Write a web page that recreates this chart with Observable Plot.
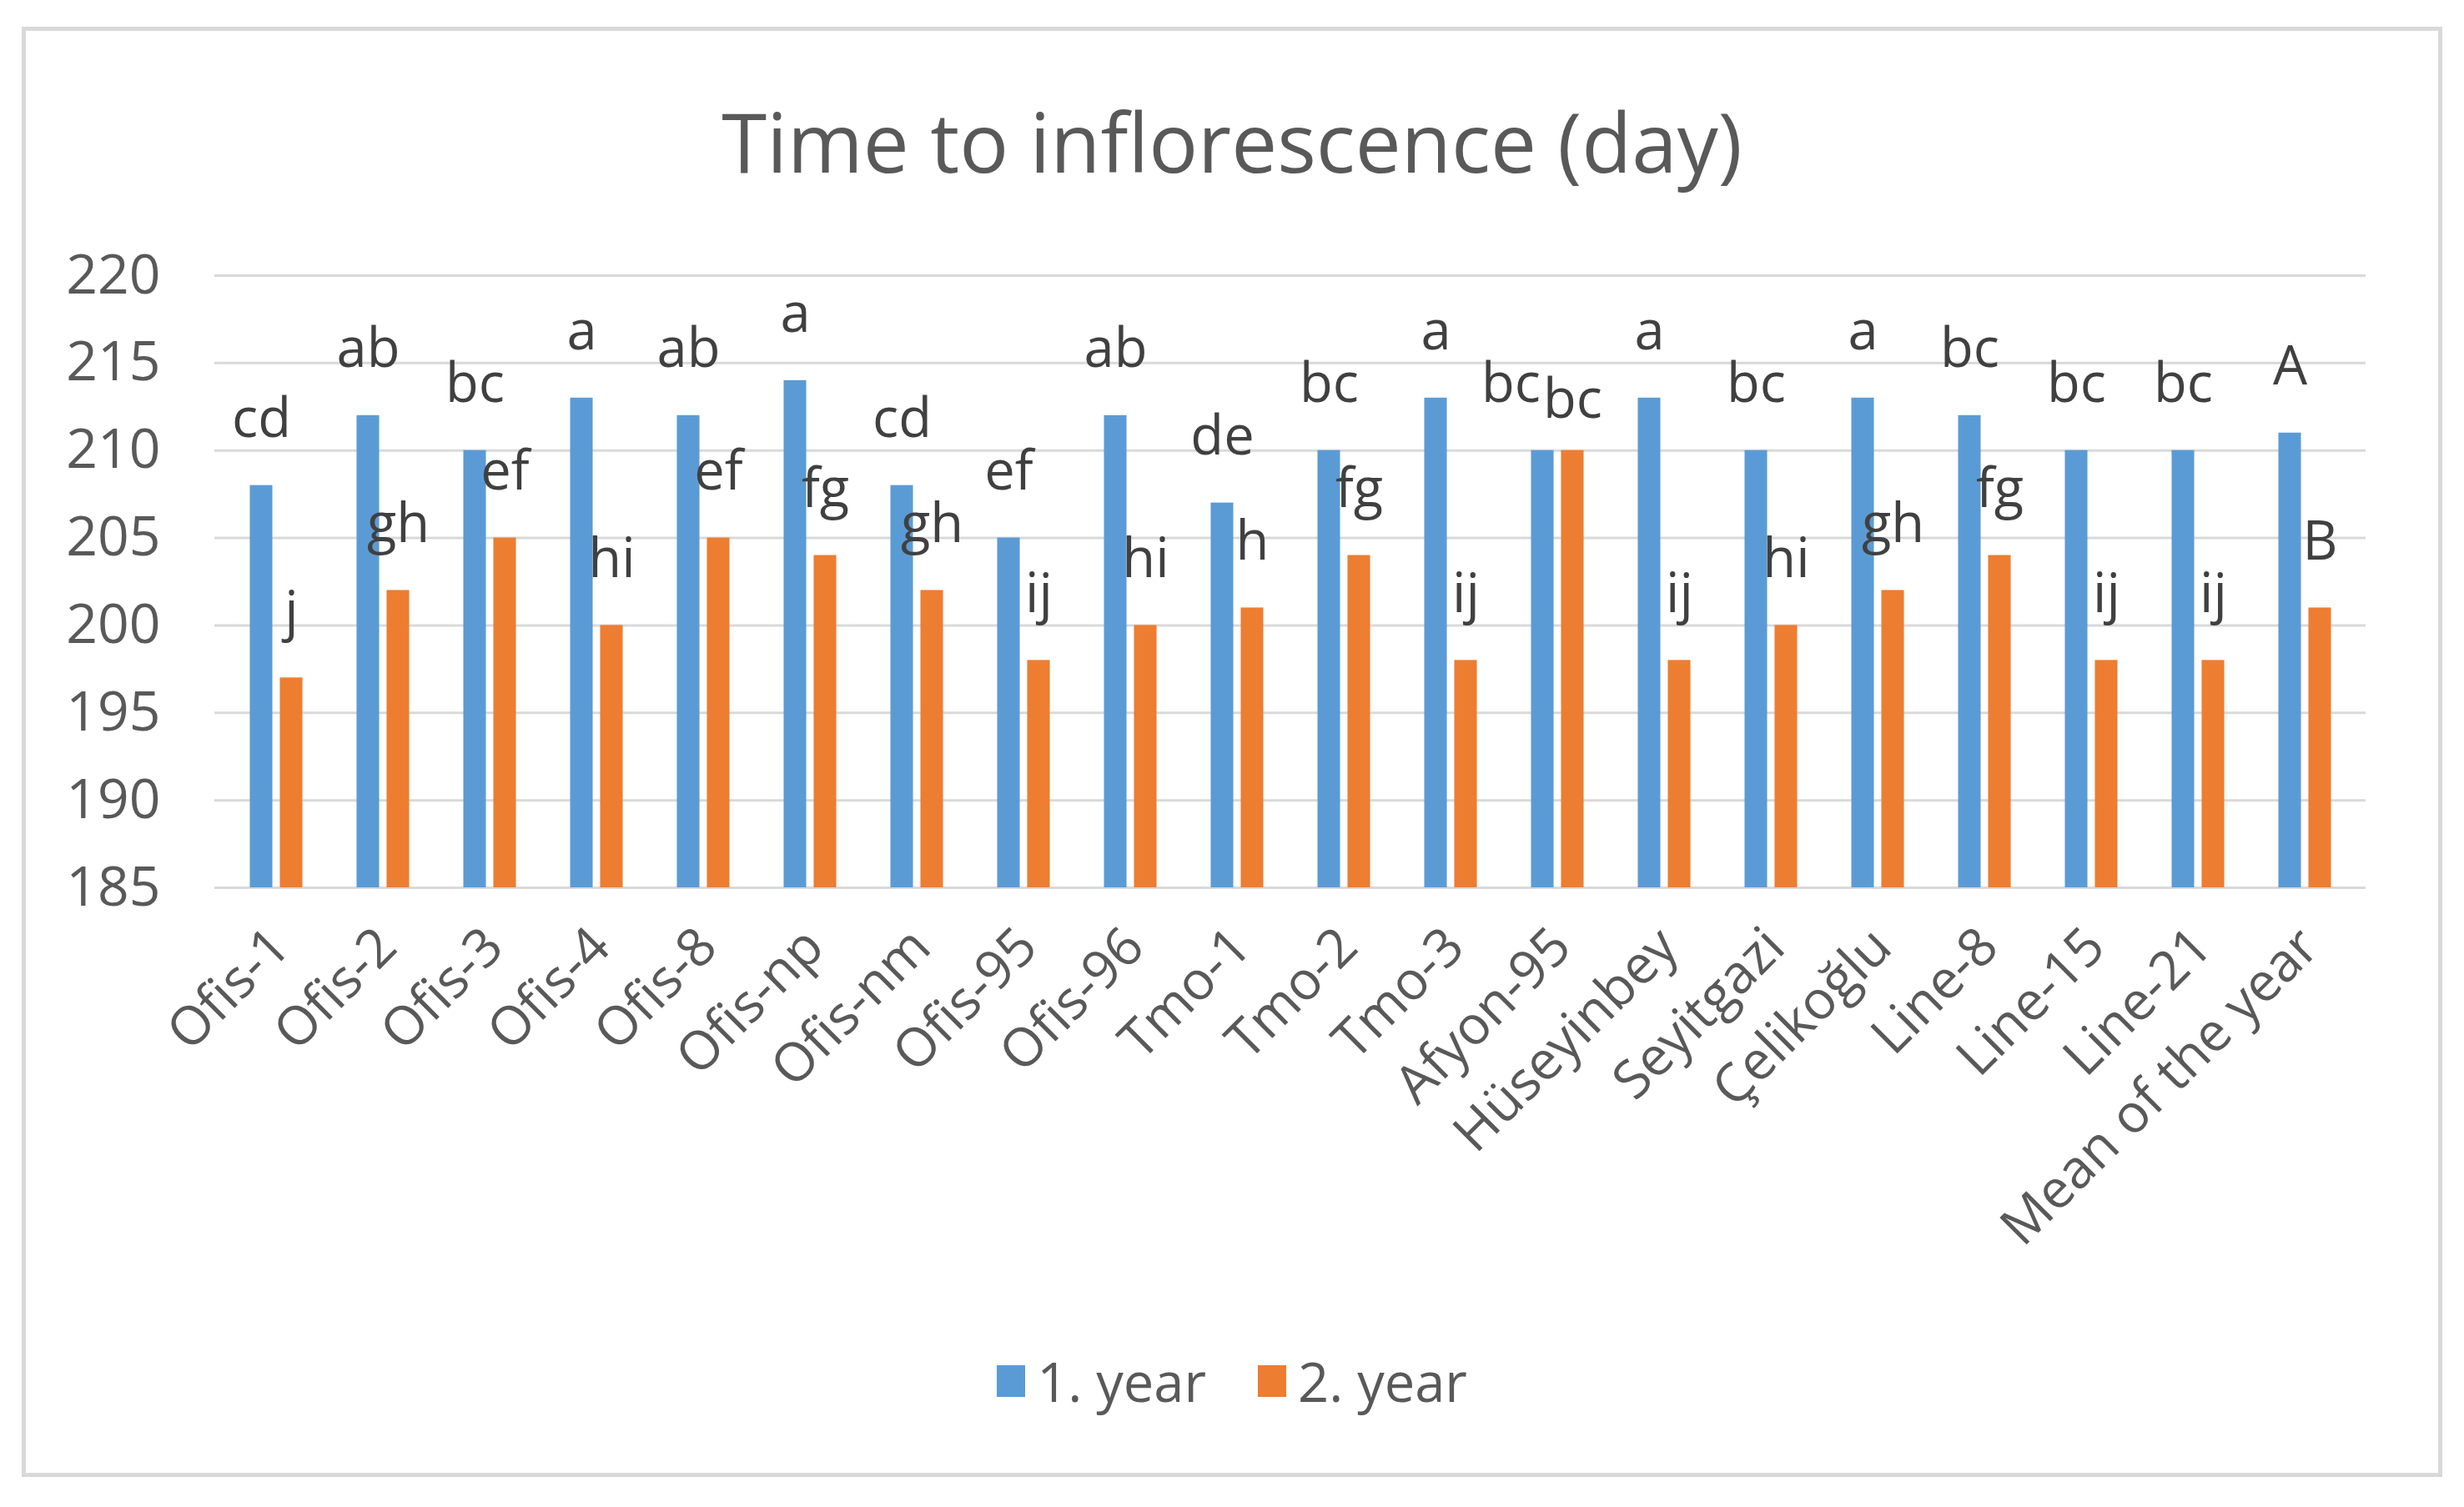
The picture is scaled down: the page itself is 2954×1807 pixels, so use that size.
<!DOCTYPE html>
<html>
<head>
<meta charset="utf-8">
<script src="https://cdn.jsdelivr.net/npm/d3@7"></script>
<script src="https://cdn.jsdelivr.net/npm/@observablehq/plot@0.6"></script>
<style>
  html, body { margin: 0; padding: 0; background: #fff; }
  body { width: 2954px; height: 1807px; position: relative; overflow: hidden; font-family: "Open Sans", "Noto Sans", sans-serif; }
  #frame { position: absolute; left: 26px; top: 32px; width: 2902px; height: 1739px; box-sizing: border-box; border: 5px solid #d9d9d9; }
  #title { position: absolute; left: 0; width: 2954px; top: 104px; line-height: 130px; text-align: center; font-size: 98px; color: #595959; }
  #chart { position: absolute; left: 0; top: 0; }
  #legend { position: absolute; left: 0; width: 2954px; top: 1612px; display: flex; justify-content: center; align-items: center; gap: 62px; font-size: 65px; color: #595959; }
  .item { display: flex; align-items: center; gap: 14px; }
  .sw { width: 34px; height: 38px; display: inline-block; }
</style>
</head>
<body>
<div id="frame"></div>
<div id="chart"></div>
<div id="title">Time to inflorescence (day)</div>
<div id="legend"></div>
<script>
// ---- data ----
const categories = ["Ofis-1","Ofis-2","Ofis-3","Ofis-4","Ofis-8","Ofis-np","Ofis-nm","Ofis-95","Ofis-96","Tmo-1","Tmo-2","Tmo-3","Afyon-95","Hüseyinbey","Seyitgazi","Çelikoğlu","Line-8","Line-15","Line-21","Mean of the year"];
const year1 = [208,212,210,213,212,214,208,205,212,207,210,213,210,213,210,213,212,210,210,211];
const year2 = [197,202,205,200,205,204,202,198,200,201,204,198,210,198,200,202,204,198,198,201];
const letters1 = ["cd","ab","bc","a","ab","a","cd","ef","ab","de","bc","a","bc","a","bc","a","bc","bc","bc","A"];
const letters2 = ["j","gh","ef","hi","ef","fg","gh","ij","hi","h","fg","ij","bc","ij","hi","gh","fg","ij","ij","B"];
const seriesNames = ["1. year","2. year"];
const yTicks = [185,190,195,200,205,210,215,220];
const colors = ["#5B9BD5","#ED7D31"];

const rows1 = categories.map((c,i) => ({cat: c, v: year1[i], lab: letters1[i], tie: year1[i] === year2[i]}));
const rows2 = categories.map((c,i) => ({cat: c, v: year2[i], lab: letters2[i], tie: year1[i] === year2[i]}));

const W = 2954, H = 1807;
const mL = 257, mR = 118, mT = 330, mB = 743;
const band = (W - mL - mR) / categories.length;
const barW = 28, gap = 8;
const outer = band / 2 - gap / 2 - barW; // inset on outer side
const inner = band / 2 + gap / 2;        // inset on inner side
const off = gap / 2 + barW / 2;

const labStyle = {fontSize: 65, fill: "#404040", fontFamily: "Open Sans"};

const chart = Plot.plot({
  width: W, height: H,
  marginLeft: mL, marginRight: mR, marginTop: mT, marginBottom: mB,
  style: {fontFamily: "Open Sans", color: "#595959", background: "transparent", overflow: "visible"},
  x: {domain: categories, padding: 0, label: null},
  y: {domain: [185, 220], label: null},
  marks: [
    Plot.gridY(yTicks, {stroke: "#d9d9d9", strokeOpacity: 1, strokeWidth: 3}),
    Plot.axisY(yTicks, {tickSize: 0, tickPadding: 65, fontSize: 66, fill: "#595959", label: null}),
    Plot.axisX({tickSize: 0, tickRotate: -45, tickPadding: 60, dx: 5, fontSize: 64, fill: "#595959", label: null}),
    Plot.barY(rows1, {x: "cat", y1: 185, y2: "v", fill: colors[0], insetLeft: outer, insetRight: inner}),
    Plot.barY(rows2, {x: "cat", y1: 185, y2: "v", fill: colors[1], insetLeft: inner, insetRight: outer}),
    Plot.text(rows1.filter(d => !d.tie), {x: "cat", y: "v", text: "lab", dx: -off, dy: -79, ...labStyle}),
    Plot.text(rows2.filter(d => !d.tie), {x: "cat", y: "v", text: "lab", dx: off, dy: -79, ...labStyle}),
    Plot.text(rows1.filter(d => d.tie), {x: "cat", y: "v", text: "lab", dx: -off - 38, dy: -79, ...labStyle}),
    Plot.text(rows2.filter(d => d.tie), {x: "cat", y: "v", text: "lab", dx: off, dy: -60, ...labStyle})
  ]
});
document.getElementById("chart").appendChild(chart);

const legend = document.getElementById("legend");
seriesNames.forEach((name, i) => {
  const item = document.createElement("div");
  item.className = "item";
  const sw = document.createElement("span");
  sw.className = "sw";
  sw.style.background = colors[i];
  const t = document.createElement("span");
  t.textContent = name;
  item.appendChild(sw); item.appendChild(t);
  legend.appendChild(item);
});
</script>
</body>
</html>
